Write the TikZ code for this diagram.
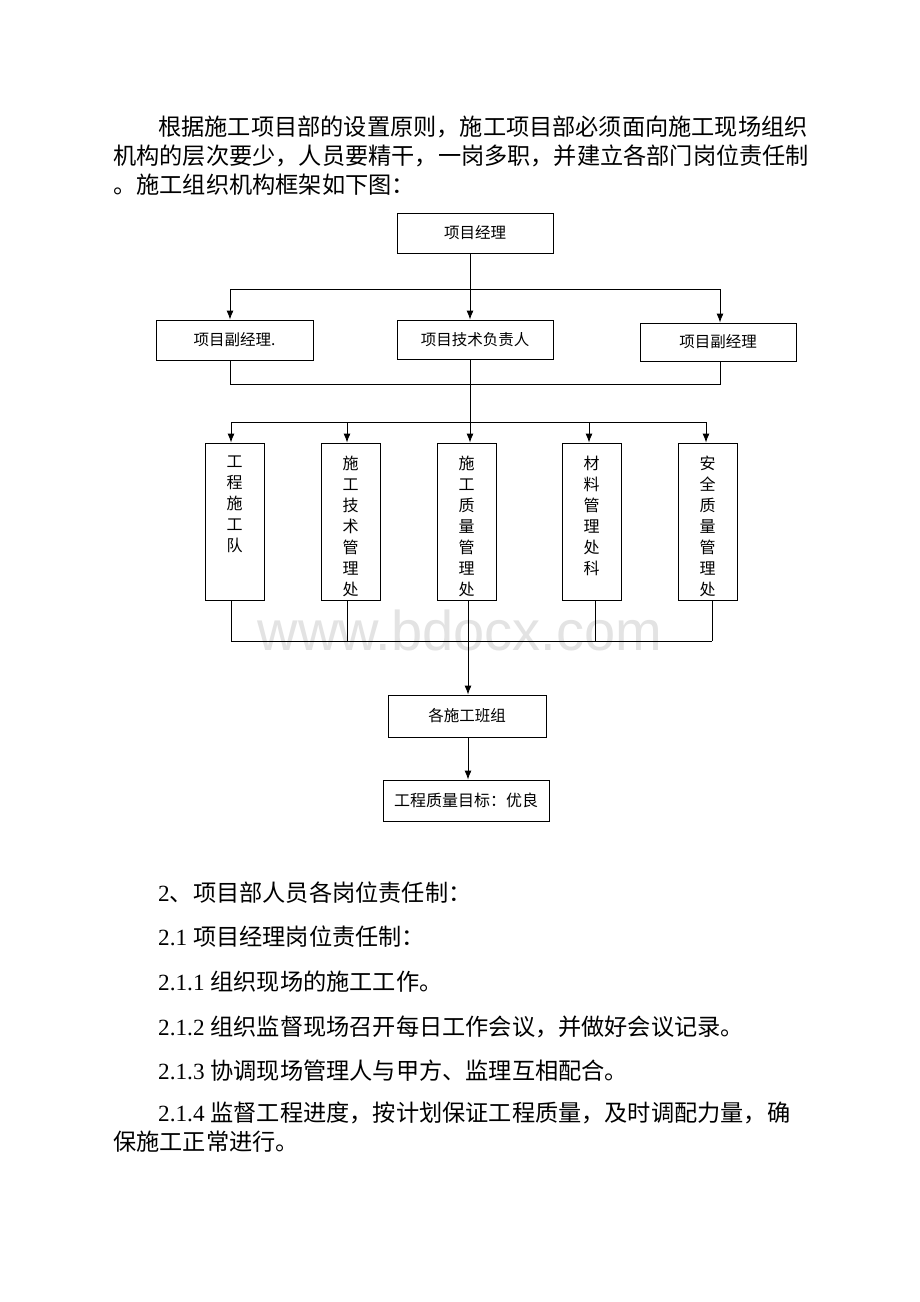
\documentclass[tikz,border=0pt]{standalone}
\usepackage{fontspec}
\setmainfont{Liberation Serif}
\newfontfamily\cjk{Noto Sans CJK SC}
\newfontfamily\wmfont{Liberation Sans}
\usetikzlibrary{arrows.meta}
\begin{document}
\begin{tikzpicture}[x=1pt,y=-1pt,
  box/.style={draw, line width=0.9pt, inner sep=0pt, font=\cjk\fontsize{15.5}{15.5}\selectfont},
  tallbox/.style={draw, line width=0.9pt, inner sep=0pt, minimum width=59pt, minimum height=157pt},
  vtext/.style={anchor=north, inner sep=0pt, align=center, font=\cjk\fontsize{16}{21}\selectfont},
  body/.style={anchor=west, inner sep=0pt, font=\fontsize{23.2}{23.2}\selectfont},
  ln/.style={line width=0.9pt},
  arr/.style={line width=0.9pt, -{Latex[length=9pt,width=7pt]}}]
\useasboundingbox (0,0) rectangle (920,1302);
\fill[white] (0,0) rectangle (920,1302);

% watermark
\node[inner sep=0pt, text=black!11, font=\wmfont\fontsize{56}{56}\selectfont] (wm) at (460,630) {www.bdocx.com};

% paragraph text
\node[body] (p1) at (158,127) {\cjk 根据施工项目部的设置原则，施工项目部必须面向施工现场组织};
\node[body] (p2) at (113,156) {\cjk 机构的层次要少，人员要精干，一岗多职，并建立各部门岗位责任制};
\node[body] (p3) at (113,185) {\cjk 。施工组织机构框架如下图：};

% top level
\node[box, minimum width=156pt, minimum height=40pt] (pm) at (475,233) {项目经理};
\node[box, minimum width=157pt, minimum height=40pt] (vl) at (234.5,340) {项目副经理.};
\node[box, minimum width=156pt, minimum height=39pt] (tech) at (475,339.5) {项目技术负责人};
\node[box, minimum width=156pt, minimum height=38pt] (vr) at (718,342) {项目副经理};

\coordinate (spine) at (470,289);
\coordinate (busAL) at (230,289);
\coordinate (busAR) at (720,289);
\coordinate (busBL) at (230,384);
\coordinate (busBR) at (720,384);
\coordinate (busC) at (470,422);

\draw[arr] (pm.south -| spine) -- (tech.north -| spine);
\draw[ln] (busAL) -- (busAR);
\draw[arr] (busAL) -- (vl.north -| busAL);
\draw[arr] (busAR) -- (vr.north -| busAR);
\draw[ln] (vl.south -| busBL) -- (busBL) -- (busBR) -- (vr.south -| busBR);
\draw[ln] (tech.south -| busC) -- (busC);

% departments
\node[tallbox] (b1) at (234.5,521.5) {};
\node[tallbox] (b2) at (350.5,521.5) {};
\node[tallbox] (b3) at (466.5,521.5) {};
\node[tallbox] (b4) at (591.5,521.5) {};
\node[tallbox] (b5) at (707.5,521.5) {};
\node[vtext] (t1) at (234.5,456) {工\\程\\施\\工\\队};
\node[vtext] (t2) at (350.5,456) {施\\工\\技\\术\\管\\理\\处};
\node[vtext] (t3) at (466.5,456) {施\\工\\质\\量\\管\\理\\处};
\node[vtext] (t4) at (591.5,456) {材\\料\\管\\理\\处\\科};
\node[vtext] (t5) at (707.5,456) {安\\全\\质\\量\\管\\理\\处};

\coordinate (d1) at (231,422);
\coordinate (d2) at (347,422);
\coordinate (d4) at (589,422);
\coordinate (d5) at (706,422);
\draw[ln] (d1) -- (d5);
\draw[arr] (d1) -- (b1.north -| d1);
\draw[arr] (d2) -- (b2.north -| d2);
\draw[arr] (busC) -- (b3.north -| busC);
\draw[arr] (d4) -- (b4.north -| d4);
\draw[arr] (d5) -- (b5.north -| d5);

\coordinate (e1) at (231,641);
\coordinate (e2) at (347,641);
\coordinate (e3) at (468,641);
\coordinate (e4) at (595,641);
\coordinate (e5) at (712,641);
\draw[ln] (e1) -- (e5);
\draw[ln] (b1.south -| e1) -- (e1);
\draw[ln] (b2.south -| e2) -- (e2);
\draw[ln] (b3.south -| e3) -- (e3);
\draw[ln] (b4.south -| e4) -- (e4);
\draw[ln] (b5.south -| e5) -- (e5);

% bottom boxes
\node[box, minimum width=158pt, minimum height=42pt] (team) at (467,716) {各施工班组};
\node[box, minimum width=166pt, minimum height=41pt, font=\cjk\fontsize{16}{16}\selectfont] (goal) at (466,800.5) {工程质量目标：优良};
\draw[arr] (e3) -- (team.north -| e3);
\draw[arr] (team.south -| e3) -- (goal.north -| e3);

% lower text
\node[body] (q1) at (158,893) {2{\cjk 、项目部人员各岗位责任制：}};
\node[body] (q2) at (158,937) {2.1 {\cjk 项目经理岗位责任制：}};
\node[body] (q3) at (158,982) {2.1.1 {\cjk 组织现场的施工工作。}};
\node[body] (q4) at (158,1027) {2.1.2 {\cjk 组织监督现场召开每日工作会议，并做好会议记录。}};
\node[body] (q5) at (158,1071) {2.1.3 {\cjk 协调现场管理人与甲方、监理互相配合。}};
\node[body] (q6) at (158,1113) {2.1.4 {\cjk 监督工程进度，按计划保证工程质量，及时调配力量，确}};
\node[body] (q7) at (113,1142) {\cjk 保施工正常进行。};
\end{tikzpicture}
\end{document}
